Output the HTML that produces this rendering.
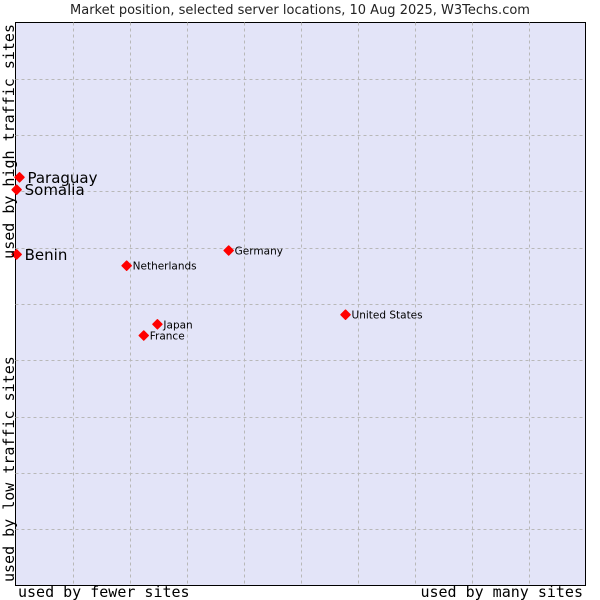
<!DOCTYPE html>
<html><head><meta charset="utf-8"><style>
body{margin:0;background:#fff;}
svg{display:block;}
</style></head><body>
<svg id="chart" width="600" height="600" xmlns="http://www.w3.org/2000/svg">
<rect x="0" y="0" width="600" height="600" fill="#fff"/>
<text x="300" y="14" text-anchor="middle" font-family="DejaVu Sans, sans-serif" font-size="13" fill="#222">Market position, selected server locations, 10 Aug 2025, W3Techs.com</text>
<rect x="15.5" y="22.5" width="570" height="563" fill="#e3e4f8" stroke="#000" stroke-width="1"/>
<g id="grid"></g>
<g id="points"></g>
<text x="18" y="597" font-family="DejaVu Sans Mono, monospace" font-size="15" fill="#000">used by fewer sites</text>
<text x="583" y="597" text-anchor="end" font-family="DejaVu Sans Mono, monospace" font-size="15" fill="#000">used by many sites</text>
<text transform="translate(14,24) rotate(-90)" text-anchor="end" font-family="DejaVu Sans Mono, monospace" font-size="15" fill="#000">used by high traffic sites</text>
<text transform="translate(14,582) rotate(-90)" text-anchor="start" font-family="DejaVu Sans Mono, monospace" font-size="15" fill="#000">used by low traffic sites</text>
</svg>
<script>
const names = ["Paraguay","Somalia","Benin","Netherlands","Germany","United States","Japan","France"];
const xValues = [0.7,0.2,0.2,19.5,37.4,57.9,24.9,22.5];
const yValues = [72.5,70.3,58.8,56.8,59.5,48.1,46.4,44.4];
const bigLabel = [true,true,true,false,false,false,false,false];
const X0=15.5,X1=585.5,Y0=585.5,Y1=22.5;
function sx(v){return X0+(X1-X0)*v/100;}
function sy(v){return Y0-(Y0-Y1)*v/100;}
const NS="http://www.w3.org/2000/svg";
const grid=document.getElementById('grid');
for(let i=1;i<10;i++){
  const v=document.createElementNS(NS,'line');
  
  
  const x=Math.round(sx(i*10))+0.5;
  v.setAttribute('x1',x);v.setAttribute('x2',x);v.setAttribute('y1',Y1);v.setAttribute('y2',Y0);
  v.setAttribute('stroke','#b8b8b8');v.setAttribute('stroke-dasharray','3,3');
  grid.appendChild(v);
  const h=document.createElementNS(NS,'line');
  
  
  const y=Math.round(sy(i*10))+0.5;
  h.setAttribute('x1',X0);h.setAttribute('x2',X1);h.setAttribute('y1',y);h.setAttribute('y2',y);
  h.setAttribute('stroke','#b8b8b8');h.setAttribute('stroke-dasharray','3,3');
  grid.appendChild(h);
}
const pts=document.getElementById('points');
names.forEach((n,i)=>{
  const x=sx(xValues[i]),y=sy(yValues[i]);
  const p=document.createElementNS(NS,'polygon');
  
  
  p.setAttribute('points',`${x},${y-4.5} ${x+4.5},${y} ${x},${y+4.5} ${x-4.5},${y}`);
  p.setAttribute('fill','#ff0000');
  p.setAttribute('stroke','#ff0000');p.setAttribute('stroke-width','1.5');p.setAttribute('stroke-linejoin','round');
  pts.appendChild(p);
  const t=document.createElementNS(NS,'text');
  
  
  const big=bigLabel[i];
  t.setAttribute('x',x+(big?8:6));
  t.setAttribute('y',y+(big?5.5:4));
  t.setAttribute('font-family','DejaVu Sans, sans-serif');
  t.setAttribute('font-size',big?'15':'10.5');
  t.setAttribute('fill','#000');
  t.textContent=n;
  pts.appendChild(t);
});
</script>
</body></html>
